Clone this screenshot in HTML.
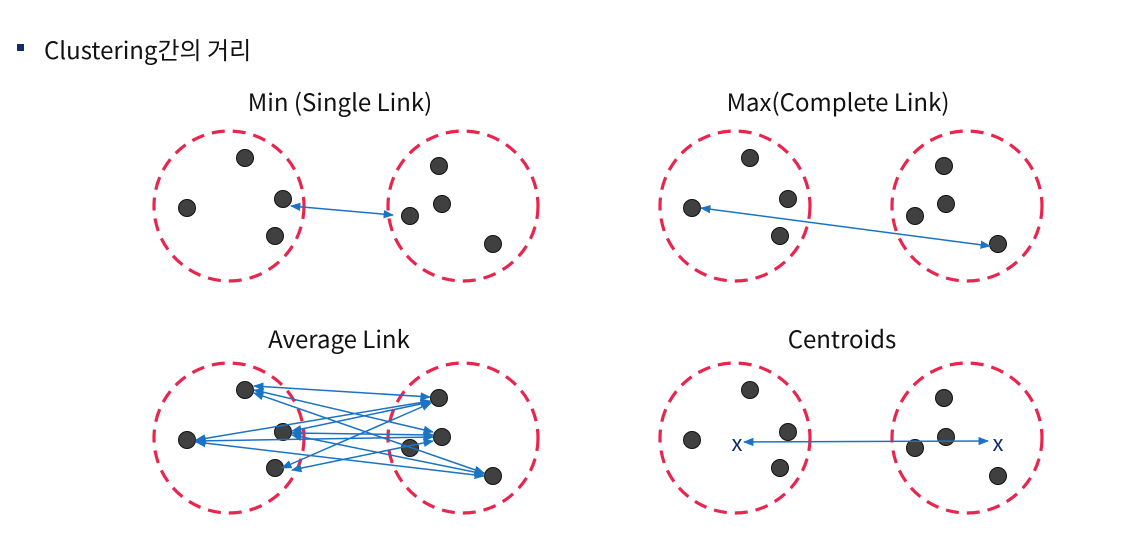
<!DOCTYPE html>
<html><head><meta charset="utf-8">
<style>
html,body{margin:0;padding:0;background:#fff;}
svg{display:block;}
text{font-family:"Noto Sans CJK KR","Liberation Sans",sans-serif;}
</style></head>
<body>
<svg width="1143" height="536" viewBox="0 0 1143 536" xmlns="http://www.w3.org/2000/svg">
<defs>
<marker id="a" viewBox="0 0 10 10" refX="9" refY="5" markerWidth="7" markerHeight="7" orient="auto-start-reverse">
<path d="M0,1 L10,5 L0,9 z" fill="#1a73c4"/></marker>
</defs>
<rect x="17" y="44" width="7" height="7" fill="#0d2d6c"/>
<text x="44" y="59" font-size="24" fill="#111">Clustering간의 거리</text>
<text x="340" y="111" font-size="24" text-anchor="middle" fill="#111">Min (Single Link)</text>
<text x="838" y="111" font-size="24" text-anchor="middle" fill="#111">Max(Complete Link)</text>
<text x="339" y="348" font-size="24" text-anchor="middle" fill="#111">Average Link</text>
<text x="842" y="348" font-size="24" text-anchor="middle" fill="#111">Centroids</text>
<g fill="none" stroke="#e8254d" stroke-width="3.2" stroke-dasharray="13,8">
<circle cx="229" cy="206" r="75"/><circle cx="463" cy="206" r="75"/>
<circle cx="735" cy="206" r="75"/><circle cx="967" cy="206" r="75"/>
<circle cx="229" cy="438" r="75"/><circle cx="463" cy="438" r="75"/>
<circle cx="735" cy="438" r="75"/><circle cx="967" cy="438" r="75"/>
</g>
<g fill="#404040" stroke="#111" stroke-width="1">
<circle cx="245" cy="158" r="8.5"/><circle cx="187" cy="208" r="8.5"/><circle cx="283" cy="199" r="8.5"/><circle cx="275" cy="236" r="8.5"/>
<circle cx="439" cy="166" r="8.5"/><circle cx="442" cy="204" r="8.5"/><circle cx="410" cy="216" r="8.5"/><circle cx="493" cy="244" r="8.5"/>
<circle cx="750" cy="158" r="8.5"/><circle cx="692" cy="208" r="8.5"/><circle cx="788" cy="199" r="8.5"/><circle cx="780" cy="236" r="8.5"/>
<circle cx="944" cy="166" r="8.5"/><circle cx="946" cy="204" r="8.5"/><circle cx="915" cy="216" r="8.5"/><circle cx="998" cy="244" r="8.5"/>
<circle cx="245" cy="390" r="8.5"/><circle cx="187" cy="440" r="8.5"/><circle cx="283" cy="432" r="8.5"/><circle cx="275" cy="468" r="8.5"/>
<circle cx="439" cy="398" r="8.5"/><circle cx="442" cy="437" r="8.5"/><circle cx="410" cy="448" r="8.5"/><circle cx="493" cy="476" r="8.5"/>
<circle cx="750" cy="390" r="8.5"/><circle cx="692" cy="440" r="8.5"/><circle cx="788" cy="432" r="8.5"/><circle cx="780" cy="468" r="8.5"/>
<circle cx="944" cy="398" r="8.5"/><circle cx="946" cy="437" r="8.5"/><circle cx="915" cy="448" r="8.5"/><circle cx="998" cy="476" r="8.5"/>
</g>
<g stroke="#1a73c4" stroke-width="1.5" fill="none" marker-start="url(#a)" marker-end="url(#a)">
<line x1="291" y1="206" x2="393" y2="215"/>
<line x1="701" y1="208" x2="990" y2="246"/>
<line x1="744" y1="442" x2="988" y2="441"/>
<line x1="254" y1="386" x2="430" y2="397"/>
<line x1="254" y1="390" x2="433" y2="432"/>
<line x1="254" y1="393" x2="484" y2="473"/>
<line x1="196" y1="440" x2="430" y2="401"/>
<line x1="196" y1="441" x2="433" y2="437"/>
<line x1="196" y1="442" x2="484" y2="476"/>
<line x1="292" y1="431" x2="430" y2="402"/>
<line x1="292" y1="433" x2="433" y2="435"/>
<line x1="292" y1="435" x2="484" y2="474"/>
<line x1="282" y1="468" x2="431" y2="403"/>
<line x1="292" y1="470" x2="433" y2="441"/>
</g>
<text x="737" y="451" font-size="22" text-anchor="middle" fill="#0d2d6c">x</text>
<text x="998" y="451" font-size="22" text-anchor="middle" fill="#0d2d6c">x</text>
</svg>
</body></html>
